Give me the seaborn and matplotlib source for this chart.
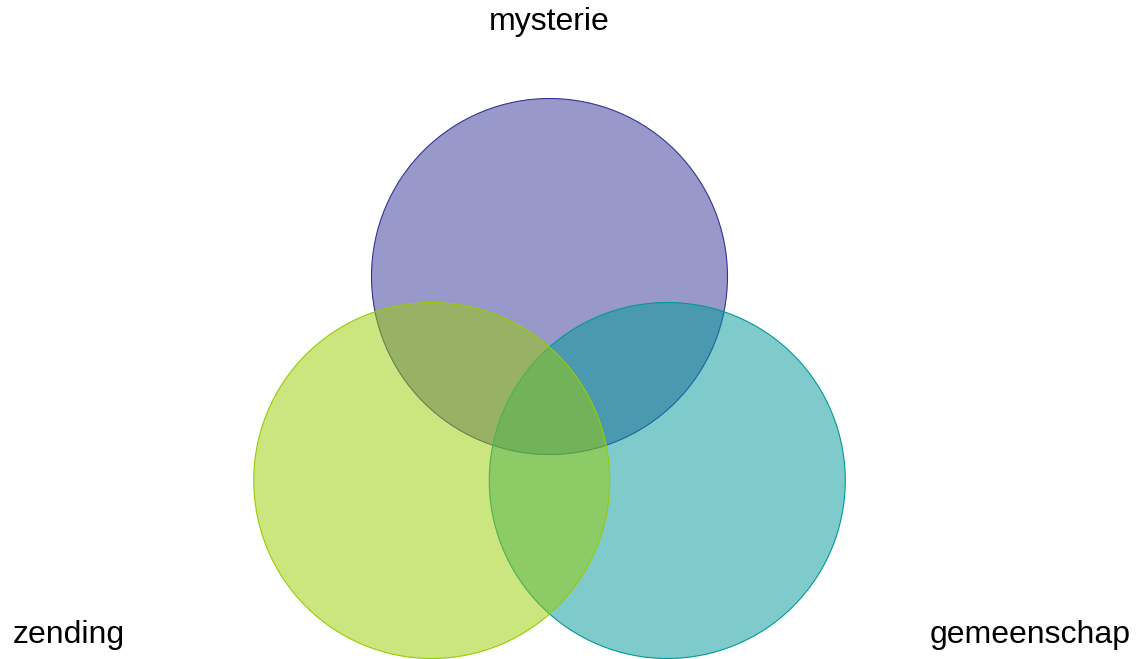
import numpy as np
import matplotlib
matplotlib.use("Agg")
import matplotlib.pyplot as plt
from matplotlib.patches import Circle
import seaborn as sns

# three sets of the venn diagram, drawn in this order
sets = ['mysterie', 'gemeenschap', 'zending']
colors = ['#333399', '#009999', '#99cc00']
angles = [90, -30, 210]  # direction of each circle from the centre

sns.set_style('white')
plt.rcParams['font.family'] = ['Liberation Sans', 'DejaVu Sans']

W, H = 1136, 659
fig = plt.figure(figsize=(W / 100, H / 100), dpi=100)
ax = fig.add_axes([0, 0, 1, 1])
ax.set_xlim(0, W)
ax.set_ylim(H, 0)
ax.set_aspect('equal')
ax.axis('off')

centre = (549.5, 412.5)
radius = 178
offset = 136

for name, col, ang in zip(sets, colors, angles):
    a = np.deg2rad(ang)
    cx = centre[0] + offset * np.cos(a)
    cy = centre[1] - offset * np.sin(a)
    ax.add_patch(Circle((cx, cy), radius, facecolor=col, alpha=0.5,
                        edgecolor='none'))
    ax.add_patch(Circle((cx, cy), radius, facecolor='none',
                        edgecolor=col, linewidth=0.8))

ax.text(549, 22, 'mysterie', fontsize=23, ha='center', va='center', color='black')
ax.text(13, 635, 'zending', fontsize=23, ha='left', va='center', color='black')
ax.text(1131, 635, 'gemeenschap', fontsize=23, ha='right', va='center', color='black')

fig.savefig('out.png', dpi=100)
